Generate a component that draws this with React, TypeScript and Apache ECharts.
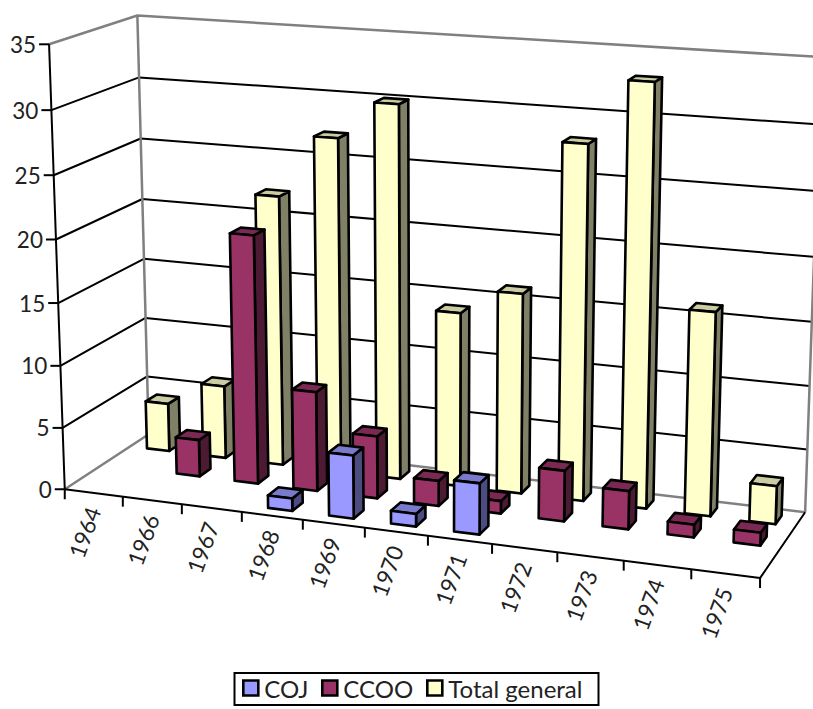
import React, { useEffect, useRef } from "react";
import * as echarts from "echarts";

const categories = ["1964", "1966", "1967", "1968", "1969", "1970", "1971", "1972", "1973", "1974", "1975"];
const coj = [null, null, null, 1, 5, 1, 4, null, null, null, null];
const ccoo = [null, 3, 20, 8, 5, 2, 1, 4, 3, 1, 1];
const total = [4, 6, 22, 27, 30, 14, 16, 28, 33, 16, 3];
const ticks = [0, 5, 10, 15, 20, 25, 30, 35];
const seriesNames = ["COJ", "CCOO", "Total general"];
const frontColors = ["#9999FF", "#993366", "#FFFFCC"];
const topColors = ["#7A7ACC", "#7A2952", "#CCCCA3"];
const sideColors = ["#4C4C80", "#4C1A33", "#808066"];
const legendLefts = [242, 321, 426];
const FONT = "Lato";
const FS = 22.5;

// camera calibration: box position (u, v, t) in 0..1 -> picture position (x, y)
const B = 0.773;
const calibration: number[][] = [
  [0, 0, 0, 66, 489], [1, 0, 0, 760, 578], [1, 1, 0, 805, 510], [0, 1, 0, 148, 434],
  [0, 0, 1, 48, 44], [0, 1, 1, 138, 15], [1, 1, 1, 820, 56.5],
  [3 / 11, 0, 0, 242, 511.6], [6 / 11, 0, 0, 427, 535], [9 / 11, 0, 0, 624, 560.6],
  [0, 1, 3 / 7, 144, 258], [0, 0, 3 / 7, 58, 302], [1, 1, 1 / 7, 806, 447],
  [1, 1, 6 / 7, 819, 123.6], [1, 1, 5 / 7, 817, 190],
  [0.3 / 11, B, 0, 147, 447], [1.3 / 11, B, 0, 203, 455], [4.3 / 11, B, 0, 377, 477],
  [6.3 / 11, B, 0, 497, 492], [7.3 / 11, B, 0, 558, 498], [8.3 / 11, B, 0, 622, 507],
  [9.3 / 11, B, 0, 685, 515], [10.3 / 11, B, 0, 750, 522],
  [4.3 / 11, B, 30 / 35, 375, 104], [8.3 / 11, B, 33 / 35, 629, 80], [7.3 / 11, B, 28 / 35, 563, 144],
  [3.3 / 11, B, 27 / 35, 314, 138],
];
function fitCamera(rows: number[][]) {
  const n = 11;
  const M = Array.from({ length: n }, () => new Array(n + 1).fill(0));
  const add = (r: number[], y: number) => {
    for (let i = 0; i < n; i++) {
      for (let j = 0; j < n; j++) M[i][j] += r[i] * r[j];
      M[i][n] += r[i] * y;
    }
  };
  for (const [u, v, t, x, y] of rows) {
    add([u, v, t, 1, 0, 0, 0, 0, -x * u, -x * v, -x * t], x);
    add([0, 0, 0, 0, u, v, t, 1, -y * u, -y * v, -y * t], y);
  }
  for (let c = 0; c < n; c++) {
    let best = c;
    for (let r = c + 1; r < n; r++) if (Math.abs(M[r][c]) > Math.abs(M[best][c])) best = r;
    [M[c], M[best]] = [M[best], M[c]];
    for (let r = 0; r < n; r++) {
      if (r === c) continue;
      const f = M[r][c] / M[c][c];
      for (let k = c; k <= n; k++) M[r][k] -= f * M[c][k];
    }
  }
  return M.map((row, i) => row[n] / row[i]);
}
const cam = fitCamera(calibration);
type P = [number, number];
function project(u: number, v: number, t: number): P {
  const w = cam[8] * u + cam[9] * v + cam[10] * t + 1;
  return [
    (cam[0] * u + cam[1] * v + cam[2] * t + cam[3]) / w,
    (cam[4] * u + cam[5] * v + cam[6] * t + cam[7]) / w,
  ];
}

const lineOf = (pts: P[], color: string, width = 2) => ({
  type: "polyline",
  shape: { points: pts },
  style: { stroke: color, lineWidth: width, fill: "none", lineJoin: "round" },
  silent: true,
});
const poly = (pts: P[], fill: string) => ({
  type: "polygon",
  shape: { points: pts },
  style: { fill, stroke: "#000", lineWidth: 2.6, lineJoin: "round" },
});

function barRenderer(slot: number) {
  return (params: any, api: any) => {
    const cs = params.coordSys;
    const p = api.coord([api.value(0), api.value(1)]);
    const band = api.size([1, 0])[0];
    const u0 = (p[0] - 0.2 * band - cs.x) / cs.width;
    const u1 = (p[0] + 0.2 * band - cs.x) / cs.width;
    const t = (cs.y + cs.height - p[1]) / cs.height;
    const v0 = (slot + 0.31) / 3;
    const v1 = (slot + 0.72) / 3;
    return {
      type: "group",
      children: [
        poly([project(u1, v0, 0), project(u1, v1, 0), project(u1, v1, t), project(u1, v0, t)], sideColors[slot]),
        poly([project(u0, v0, t), project(u1, v0, t), project(u1, v1, t), project(u0, v1, t)], topColors[slot]),
        poly([project(u0, v0, 0), project(u1, v0, 0), project(u1, v0, t), project(u0, v0, t)], frontColors[slot]),
      ],
    };
  };
}

function gridRenderer(params: any, api: any) {
  const cs = params.coordSys;
  const val = api.value(1);
  const p = api.coord([0, val]);
  const t = (cs.y + cs.height - p[1]) / cs.height;
  const edge = val === 0 || val === 35;
  const color = edge ? "#808080" : "#000";
  const a = project(0, 0, t), b = project(0, 1, t), c = project(1, 1, t);
  const children: any[] = [lineOf([a, b, c], color, edge ? 2.5 : 2)];
  if (val === 35) {
    children.push(lineOf([project(0, 1, 0), b], "#808080", 2.5));
    children.push(lineOf([project(1, 1, 0), c], "#808080", 2.5));
  }
  children.push(lineOf([a, [a[0] - 10, a[1]]], "#000", 2));
  children.push({
    type: "text",
    style: {
      text: String(val), x: a[0] - 13, y: a[1], align: "right", verticalAlign: "middle",
      fontFamily: FONT, fontSize: FS, fill: "#222",
    },
  });
  return { type: "group", children };
}

function axisRenderer(params: any, api: any) {
  const cs = params.coordSys;
  const idx = api.value(0);
  const band = api.size([1, 0])[0];
  const p = api.coord([idx, 0]);
  const um = (p[0] - cs.x) / cs.width;
  const u0 = (p[0] - band / 2 - cs.x) / cs.width;
  const pm = project(um, 0, 0), p0 = project(u0, 0, 0);
  const children: any[] = [lineOf([p0, [p0[0], p0[1] + 10]], "#000", 2)];
  if (idx === 0) {
    children.push(lineOf([project(0, 0, 0), project(0, 0, 1)], "#000", 2));
    children.push(lineOf([project(0, 0, 0), project(1, 0, 0), project(1, 1, 0)], "#000", 2));
    const e = project(1, 0, 0);
    children.push(lineOf([e, [e[0], e[1] + 10]], "#000", 2));
  }
  children.push({
    type: "text",
    x: pm[0] - 9,
    y: pm[1] + 39.5,
    rotation: (70 * Math.PI) / 180,
    style: {
      text: categories[idx], x: 0, y: 0, align: "center", verticalAlign: "middle",
      fontFamily: FONT, fontSize: FS, fill: "#222",
    },
  });
  return { type: "group", children };
}

const toData = (arr: (number | null)[]) =>
  arr.map((v, i) => [i, v]).filter((d) => d[1] !== null);

export default function App() {
  const ref = useRef<HTMLDivElement>(null);
  useEffect(() => {
    document.body.style.margin = "0";
    const chart = echarts.init(ref.current!, undefined, { renderer: "svg" });
    const base = { type: "custom", coordinateSystem: "cartesian2d", clip: false, silent: true, encode: { x: 0, y: 1 } };
    const values = [coj, ccoo, total];
    chart.setOption({
      animation: false,
      backgroundColor: "#fff",
      grid: { left: 100, right: 100, top: 100, bottom: 100 },
      xAxis: { type: "category", data: categories, show: false },
      yAxis: { type: "value", min: 0, max: 35, interval: 5, show: false },
      legend: seriesNames.map((name, i) => ({
        data: [name],
        left: legendLefts[i],
        top: 676,
        padding: 0,
        itemWidth: 15,
        itemHeight: 15,
        icon: "rect",
        itemStyle: { borderColor: "#000", borderWidth: 2.6 },
        textStyle: { fontFamily: "Lato", fontSize: 24, color: "#222", padding: [0, 0, 0, 1] },
      })),
      graphic: [
        {
          type: "rect",
          shape: { x: 234.5, y: 673, width: 364, height: 32 },
          style: { fill: "none", stroke: "#000", lineWidth: 2 },
          z: 0,
        },
      ],
      series: [
        { ...base, name: "__grid", z: 1, data: ticks.map((t) => [0, t]), renderItem: gridRenderer },
        { ...base, name: "__axis", z: 2, data: categories.map((_, i) => [i, 0]), renderItem: axisRenderer },
        ...seriesNames.map((name, slot) => ({
          ...base,
          name,
          z: 6 - slot,
          itemStyle: { color: frontColors[slot] },
          data: toData(values[slot]),
          renderItem: barRenderer(slot),
        })),
      ],
    });
    return () => chart.dispose();
  }, []);
  return <div ref={ref} style={{ position: "absolute", left: 0, top: 0, width: 813, height: 709 }} />;
}
